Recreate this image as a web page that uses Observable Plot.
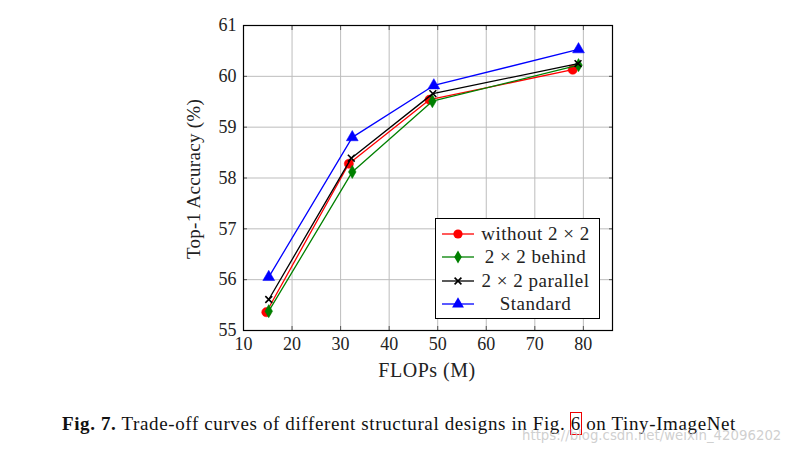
<!DOCTYPE html>
<html>
<head>
<meta charset="utf-8">
<script src="https://cdn.jsdelivr.net/npm/d3@7"></script>
<script src="https://cdn.jsdelivr.net/npm/@observablehq/plot@0.6"></script>
<style>
  html, body { margin: 0; padding: 0; background: #fff; }
  body { width: 793px; height: 453px; position: relative; overflow: hidden; font-family: "Liberation Serif", serif; }
  #chart { position: absolute; left: 0; top: 0; }
  #legend { position: absolute; left: 435px; top: 218px; width: 165px; height: 101px; border: 1px solid #000; background: #fff; box-sizing: border-box; font-size: 19px; color: #222; }
  #legend .row { position: absolute; left: 0; width: 100%; height: 22px; }
  #legend svg { position: absolute; left: 5px; top: 0; }
  #legend span { position: absolute; left: 38px; right: 2px; text-align: center; top: 0px; line-height: 22px; white-space: nowrap; letter-spacing: 0.5px; }
  #caption { position: absolute; left: 62px; top: 413px; font-size: 19px; letter-spacing: 0.62px; color: #111; white-space: nowrap; }
  #caption b { font-weight: bold; }
  #caption .ref { outline: 1px solid #e00; outline-offset: 0px; }
  #watermark { position: absolute; left: 522px; top: 428px; font-family: "DejaVu Sans", sans-serif; font-size: 13.3px; color: rgba(195,195,195,0.8); white-space: nowrap; }
</style>
</head>
<body>
<div id="chart"></div>
<div id="legend"></div>
<div id="caption"></div>
<div id="watermark"></div>
<script>
const flops = {
  "without 2 × 2": [14.7, 31.7, 48.3, 77.8],
  "2 × 2 behind": [15.2, 32.4, 48.9, 79.0],
  "2 × 2 parallel": [15.2, 32.2, 49.0, 78.9],
  "Standard": [15.2, 32.4, 49.2, 79.0]
};
const withoutAcc = [55.36, 58.28, 59.54, 60.13];
const behindAcc = [55.38, 58.12, 59.51, 60.22];
const parallelAcc = [55.61, 58.39, 59.66, 60.25];
const standardAcc = [56.05, 58.80, 59.82, 60.53];
const seriesNames = ["without 2 × 2", "2 × 2 behind", "2 × 2 parallel", "Standard"];
const seriesColors = ["#ff0000", "#008000", "#000000", "#0000ff"];
const seriesSymbols = ["circle", "diamond", "times", "triangle"];
const seriesSizes = [4.6, 4.0, 3.2, 4.4];
const xTicks = [10, 20, 30, 40, 50, 60, 70, 80];
const yTicks = [55, 56, 57, 58, 59, 60, 61];
const xLabel = "FLOPs (M)";
const yLabel = "Top-1 Accuracy (%)";
const captionBold = "Fig. 7.";
const captionText = ["Trade-off curves of different structural designs in Fig.", "6", "on Tiny-ImageNet"];
const watermark = "https://blog.csdn.net/weixin_42096202";

const accs = [withoutAcc, behindAcc, parallelAcc, standardAcc];
const data = [];
seriesNames.forEach((s, i) => {
  accs[i].forEach((v, j) => data.push({series: s, idx: i, x: flops[s][j], y: v}));
});

const font = "'Liberation Serif', serif";
const marks = [
  Plot.gridX(xTicks, {stroke: "#bdbdbd", strokeOpacity: 1, strokeWidth: 1}),
  Plot.gridY(yTicks, {stroke: "#bdbdbd", strokeOpacity: 1, strokeWidth: 1}),
  Plot.axisX(xTicks, {tickSize: -4, tickPadding: 11, fontSize: 18, fontFamily: font, fill: "#222", stroke: "#555", tickFormat: d => String(d), label: null}),
  Plot.axisX(xTicks, {anchor: "top", tickSize: -4, stroke: "#555", tickFormat: () => "", label: null}),
  Plot.axisY(yTicks, {tickSize: -4, tickPadding: 11, fontSize: 18, fontFamily: font, fill: "#222", stroke: "#555", tickFormat: d => String(d), label: null}),
  Plot.axisY(yTicks, {anchor: "right", tickSize: -4, stroke: "#555", tickFormat: () => "", label: null})
];
seriesNames.forEach((s, i) => {
  const d = data.filter(r => r.idx === i);
  marks.push(Plot.line(d, {x: "x", y: "y", stroke: seriesColors[i], strokeWidth: 1.3}));
  marks.push(Plot.dot(d, {x: "x", y: "y", symbol: () => seriesSymbols[i], r: seriesSizes[i],
    fill: seriesSymbols[i] === "times" ? "none" : seriesColors[i],
    stroke: seriesColors[i], strokeWidth: seriesSymbols[i] === "times" ? 1.6 : 0.5}));
});
marks.push(Plot.frame({stroke: "#000", strokeWidth: 1.2}));

const chart = Plot.plot({
  width: 793,
  height: 400,
  marginLeft: 243,
  marginRight: 181,
  marginTop: 25,
  marginBottom: 70,
  style: {fontSize: "18px", color: "#222", background: "#fff"},
  x: {domain: [10, 86], type: "linear"},
  y: {domain: [55, 61], type: "linear"},
  marks
});

const svg = d3.select(chart);
svg.style("font-family", font);
svg.selectAll("text").style("font-family", font).style("font-variant", "normal");
svg.append("text").attr("x", 427).attr("y", 377).attr("text-anchor", "middle")
  .style("font-family", font).attr("font-size", 20).attr("letter-spacing", 0.5).attr("fill", "#222").text(xLabel);
svg.append("text").attr("transform", "translate(200,179) rotate(-90)").attr("text-anchor", "middle")
  .style("font-family", font).attr("font-size", 19).attr("letter-spacing", 0.3).attr("fill", "#222").text(yLabel);
document.getElementById("chart").appendChild(chart);

// legend
const legend = document.getElementById("legend");
const ns = "http://www.w3.org/2000/svg";
const symMap = {circle: d3.symbolCircle, diamond: d3.symbolDiamond, times: d3.symbolTimes, triangle: d3.symbolTriangle};
seriesNames.forEach((s, i) => {
  const row = document.createElement("div");
  row.className = "row";
  row.style.top = (4 + i * 23.3) + "px";
  const sv = document.createElementNS(ns, "svg");
  sv.setAttribute("width", 34); sv.setAttribute("height", 22);
  const ln = document.createElementNS(ns, "line");
  ln.setAttribute("x1", 1); ln.setAttribute("x2", 33); ln.setAttribute("y1", 11); ln.setAttribute("y2", 11);
  ln.setAttribute("stroke", seriesColors[i]); ln.setAttribute("stroke-width", 1.3);
  sv.appendChild(ln);
  const p = document.createElementNS(ns, "path");
  const r = seriesSizes[i];
  p.setAttribute("d", d3.symbol(symMap[seriesSymbols[i]], Math.PI * r * r)());
  p.setAttribute("transform", "translate(17,11)");
  if (seriesSymbols[i] === "times") { p.setAttribute("fill", "none"); p.setAttribute("stroke", seriesColors[i]); p.setAttribute("stroke-width", 1.6); }
  else { p.setAttribute("fill", seriesColors[i]); }
  sv.appendChild(p);
  row.appendChild(sv);
  const sp = document.createElement("span");
  sp.textContent = s;
  row.appendChild(sp);
  legend.appendChild(row);
});

const cap = document.getElementById("caption");
const b = document.createElement("b"); b.textContent = captionBold; cap.appendChild(b);
cap.appendChild(document.createTextNode(" " + captionText[0] + " "));
const ref = document.createElement("span"); ref.className = "ref"; ref.textContent = captionText[1]; cap.appendChild(ref);
cap.appendChild(document.createTextNode(" " + captionText[2]));
document.getElementById("watermark").textContent = watermark;
</script>
</body>
</html>
